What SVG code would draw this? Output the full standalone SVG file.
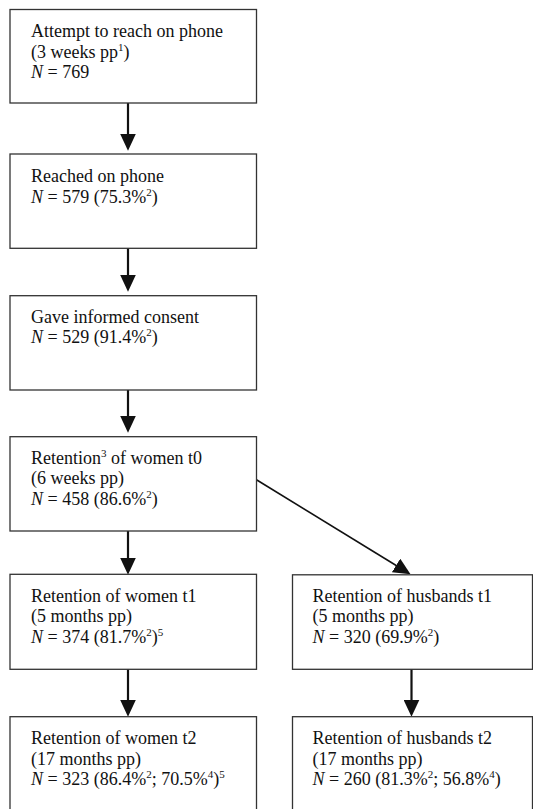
<svg xmlns="http://www.w3.org/2000/svg" width="533" height="809" viewBox="0 0 533 809">
<defs>
<style>
.box{fill:#fff;stroke:#333;stroke-width:1.3}
text{font-family:"Liberation Serif","Times New Roman",serif;font-size:18px;fill:#111}
.i{font-style:italic}
.sup{font-size:11px}
.arr{stroke:#111;stroke-width:2.2;fill:none}
.diag{stroke:#111;stroke-width:1.6;fill:none}
</style>
<marker id="ah" markerUnits="userSpaceOnUse" markerWidth="17" markerHeight="16" refX="6" refY="7.5" orient="auto" viewBox="0 0 16 15">
<path d="M0,0 L16,7.5 L0,15 z" fill="#111"/>
</marker>
</defs>
<rect width="533" height="809" fill="#fff"/>
<g id="connectors">
<line class="arr" x1="128" y1="103" x2="128" y2="140" marker-end="url(#ah)"/>
<line class="arr" x1="128" y1="248" x2="128" y2="281" marker-end="url(#ah)"/>
<line class="arr" x1="128" y1="390" x2="128" y2="422" marker-end="url(#ah)"/>
<line class="arr" x1="128" y1="531" x2="128" y2="564" marker-end="url(#ah)"/>
<line class="arr" x1="128" y1="669" x2="128" y2="706" marker-end="url(#ah)"/>
<line class="arr" x1="411.5" y1="669" x2="411.5" y2="706" marker-end="url(#ah)"/>
<line class="diag" x1="252" y1="477" x2="401.5" y2="568.8" marker-end="url(#ah)"/>
</g>
<g id="n1">
<rect class="box" x="10" y="9.5" width="246.5" height="93.5"/>
<text x="31" y="37.3">Attempt to reach on phone</text>
<text x="31" y="57.5">(3 weeks pp<tspan class="sup" dy="-7">1</tspan><tspan dy="7">)</tspan></text>
<text x="31" y="77.5"><tspan class="i">N</tspan> = 769</text>
</g>
<g id="n2">
<rect class="box" x="10" y="154" width="246.5" height="94.3"/>
<text x="31" y="181.7">Reached on phone</text>
<text x="31" y="202.5"><tspan class="i">N</tspan> = 579 (75.3%<tspan class="sup" dy="-7">2</tspan><tspan dy="7">)</tspan></text>
</g>
<g id="n3">
<rect class="box" x="10" y="295.7" width="246.5" height="94.3"/>
<text x="31" y="322.7">Gave informed consent</text>
<text x="31" y="343.3"><tspan class="i">N</tspan> = 529 (91.4%<tspan class="sup" dy="-7">2</tspan><tspan dy="7">)</tspan></text>
</g>
<g id="n4">
<rect class="box" x="10" y="436.7" width="246.5" height="94.3"/>
<text x="31" y="464">Retention<tspan class="sup" dy="-7">3</tspan><tspan dy="7"> of women t0</tspan></text>
<text x="31" y="484.3">(6 weeks pp)</text>
<text x="31" y="504.6"><tspan class="i">N</tspan> = 458 (86.6%<tspan class="sup" dy="-7">2</tspan><tspan dy="7">)</tspan></text>
</g>
<g id="n5">
<rect class="box" x="10" y="574.3" width="246.5" height="95"/>
<text x="31" y="601.7">Retention of women t1</text>
<text x="31" y="622.2">(5 months pp)</text>
<text x="31" y="642.7"><tspan class="i">N</tspan> = 374 (81.7%<tspan class="sup" dy="-7">2</tspan><tspan dy="7">)</tspan><tspan class="sup" dy="-7">5</tspan></text>
</g>
<g id="n6">
<rect class="box" x="10" y="716.7" width="246.5" height="110"/>
<text x="31" y="744.2">Retention of women t2</text>
<text x="31" y="764.7">(17 months pp)</text>
<text x="31" y="785.2"><tspan class="i">N</tspan> = 323 (86.4%<tspan class="sup" dy="-7">2</tspan><tspan dy="7">; 70.5%</tspan><tspan class="sup" dy="-7">4</tspan><tspan dy="7">)</tspan><tspan class="sup" dy="-7">5</tspan></text>
</g>
<g id="h1">
<rect class="box" x="292.5" y="574.8" width="240" height="94.5"/>
<text x="312.5" y="601.7">Retention of husbands t1</text>
<text x="312.5" y="622.2">(5 months pp)</text>
<text x="312.5" y="642.7"><tspan class="i">N</tspan> = 320 (69.9%<tspan class="sup" dy="-7">2</tspan><tspan dy="7">)</tspan></text>
</g>
<g id="h2">
<rect class="box" x="292.5" y="716.7" width="240" height="110"/>
<text x="312.5" y="744.2">Retention of husbands t2</text>
<text x="312.5" y="764.7">(17 months pp)</text>
<text x="312.5" y="785.2"><tspan class="i">N</tspan> = 260 (81.3%<tspan class="sup" dy="-7">2</tspan><tspan dy="7">; 56.8%</tspan><tspan class="sup" dy="-7">4</tspan><tspan dy="7">)</tspan></text>
</g>
</svg>
